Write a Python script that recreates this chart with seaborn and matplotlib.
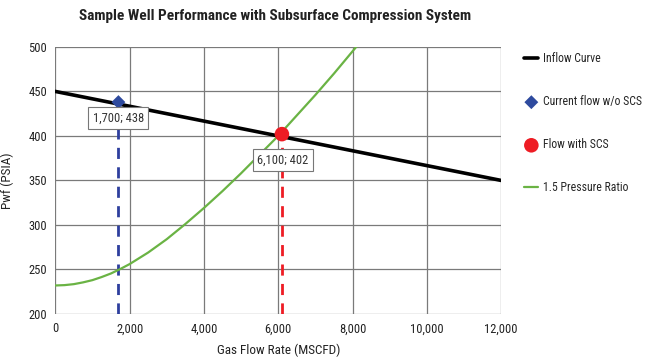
import matplotlib
matplotlib.use("Agg")
import matplotlib.pyplot as plt
import seaborn as sns
import pandas as pd

# inflow curve (straight line)
inflow_x = [0, 12000]
inflow_y = [450, 350]

# 1.5 pressure ratio curve
ratio_x = [0, 250, 500, 750, 1000, 1250, 1500, 1750, 2000, 2500, 3000, 3500,
           4000, 4500, 5000, 5500, 6000, 6500, 7000, 7500, 8000, 8100]
ratio_y = [232, 232.4, 233.5, 235.5, 238, 241.5, 245.5, 250.5, 256, 269, 284, 301,
           319, 338, 358, 379, 400, 423, 446, 470, 495, 500]

# operating points
current_pt = (1700, 438)
scs_pt = (6100, 402)

sns.set_style("white")
plt.rcParams['font.family'] = ['Roboto Condensed', 'DejaVu Sans']

fig = plt.figure(figsize=(6.5, 3.58), dpi=100)
ax = fig.add_axes([0.085, 0.123, 0.686, 0.746])

grid_c = '#7a7a7a'
for gx in range(0, 12001, 2000):
    ax.axvline(gx, color=grid_c, lw=0.9, zorder=0)
for gy in range(200, 501, 50):
    ax.axhline(gy, color=grid_c, lw=0.9, zorder=0)

df_in = pd.DataFrame({'x': inflow_x, 'y': inflow_y})
df_ratio = pd.DataFrame({'x': ratio_x, 'y': ratio_y})

sns.lineplot(data=df_in, x='x', y='y', ax=ax, color='black', lw=2.6,
             label='Inflow Curve', zorder=3)
ax.plot([current_pt[0]] * 2, [200, current_pt[1]], color='#2e3f9e', lw=2,
        ls=(0, (4, 3)), zorder=2)
ax.plot([scs_pt[0]] * 2, [200, scs_pt[1]], color='#ee1c24', lw=2,
        ls=(0, (4, 3)), zorder=2)
sns.scatterplot(x=[current_pt[0]], y=[current_pt[1]], ax=ax, marker='D', s=50,
                color='#2e4a9e', edgecolor='none', label='Current flow w/o SCS', zorder=4)
sns.scatterplot(x=[scs_pt[0]], y=[scs_pt[1]], ax=ax, marker='o', s=110,
                color='#ee1c24', edgecolor='none', label='Flow with SCS', zorder=4)
sns.lineplot(data=df_ratio, x='x', y='y', ax=ax, color='#6ab344', lw=1.6,
             label='1.5 Pressure Ratio', zorder=2)

box = dict(boxstyle='square,pad=0.35', fc='white', ec='#777777', lw=0.8)
ax.text(current_pt[0], current_pt[1] - 18, f"{current_pt[0]:,}; {current_pt[1]}",
        ha='center', va='center', fontsize=9, color='#333333', bbox=box, zorder=5)
ax.text(scs_pt[0] + 30, scs_pt[1] - 29, f"{scs_pt[0]:,}; {scs_pt[1]}",
        ha='center', va='center', fontsize=9, color='#333333', bbox=box, zorder=5)

ax.set_xlim(0, 12000)
ax.set_ylim(200, 500)
ax.set_xticks(range(0, 12001, 2000))
ax.set_xticklabels([f"{v:,}" for v in range(0, 12001, 2000)])
ax.set_yticks(range(200, 501, 50))
ax.tick_params(length=0, labelsize=9, colors='#222222', pad=6)
for s in ax.spines.values():
    s.set_visible(False)
ax.set_xlabel('Gas Flow Rate (MSCFD)', fontsize=9.5, color='#222222', labelpad=6)
ax.set_ylabel('Pwf (PSIA)', fontsize=9.5, color='#222222', labelpad=10)

fig.suptitle('Sample Well Performance with Subsurface Compression System',
             x=0.423, y=0.975, fontsize=11, fontweight='bold', color='#222222')

leg = ax.legend(loc='upper left', bbox_to_anchor=(1.028, 1.02), frameon=False,
                fontsize=8.5, handlelength=1.2, labelspacing=2.55, handletextpad=0.4)

fig.savefig('out.png', dpi=100)
